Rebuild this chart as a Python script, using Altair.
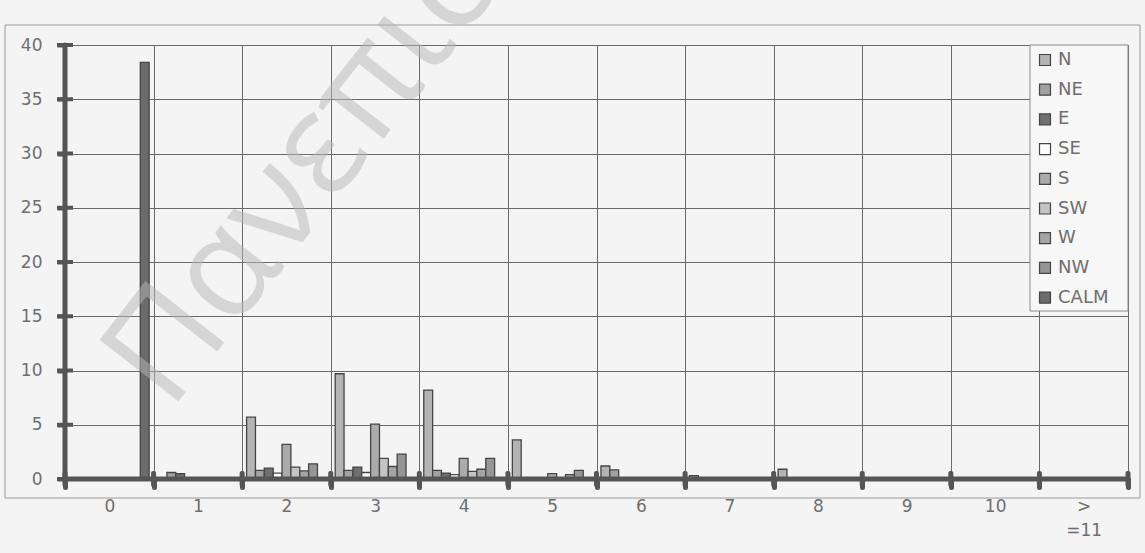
import altair as alt
import pandas as pd

# Wind speed classes (x categories) and wind directions (series)
speeds = ["0", "1", "2", "3", "4", "5", "6", "7", "8", "9", "10", ">=11"]
directions = ["N", "NE", "E", "SE", "S", "SW", "W", "NW", "CALM"]

# Frequency (%) per direction, one value per speed class
n_vals = [0, 0, 5.7, 9.7, 8.2, 3.6, 1.2, 0.3, 0.9, 0, 0, 0]
ne_vals = [0, 0.6, 0.8, 0.8, 0.8, 0, 0.85, 0, 0, 0, 0, 0]
e_vals = [0, 0.5, 1.0, 1.1, 0.55, 0, 0, 0, 0, 0, 0, 0]
se_vals = [0, 0, 0.55, 0.6, 0.4, 0, 0, 0, 0, 0, 0, 0]
s_vals = [0, 0, 3.2, 5.05, 1.9, 0.5, 0, 0, 0, 0, 0, 0]
sw_vals = [0, 0, 1.1, 1.9, 0.7, 0, 0, 0, 0, 0, 0, 0]
w_vals = [0, 0, 0.75, 1.15, 0.9, 0.4, 0, 0, 0, 0, 0, 0]
nw_vals = [0, 0, 1.4, 2.3, 1.9, 0.8, 0, 0, 0, 0, 0, 0]
calm_vals = [38.4, 0, 0, 0, 0, 0, 0, 0, 0, 0, 0, 0]

y_ticks = [0, 5, 10, 15, 20, 25, 30, 35, 40]
fills = ["#b4b4b4", "#a2a2a2", "#6f6f6f", "#ffffff", "#ababab",
         "#c4c4c4", "#a5a5a5", "#969696", "#6b6b6b"]

series = [n_vals, ne_vals, e_vals, se_vals, s_vals, sw_vals, w_vals, nw_vals, calm_vals]
rows = []
for d, vals in zip(directions, series):
    for sp, v in zip(speeds, vals):
        if v > 0:  # empty classes draw no bar
            rows.append({"speed": sp, "dir": d, "value": v})
df = pd.DataFrame(rows)

W, H = 1063, 434
LEG_X, LEG_W, LEG_H = 965, 98, 266
AXIS_COLOR = "#555555"
GRID_COLOR = "#6a6a6a"
LABEL_COLOR = "#6e6e6e"
FONT = "DejaVu Sans"

x_enc = alt.X(
    "speed:N",
    sort=speeds,
    scale=alt.Scale(type="band", domain=speeds, paddingInner=0, paddingOuter=0),
    axis=alt.Axis(
        title=None,
        labelAngle=0,
        tickBand="extent",
        tickSize=8,
        tickWidth=5,
        tickColor=AXIS_COLOR,
        tickCap="round",
        domain=False,
        grid=True,
        gridColor=GRID_COLOR,
        gridWidth=1,
        labelFont=FONT,
        labelFontSize=17,
        labelColor=LABEL_COLOR,
        labelPadding=11,
        labelBaseline="top",
        labelLineHeight=24,
        labelExpr="datum.label == '>=11' ? ['>', '=11'] : datum.label",
    ),
)

y_enc = alt.Y(
    "value:Q",
    scale=alt.Scale(domain=[0, 40], nice=False),
    axis=alt.Axis(
        title=None,
        values=y_ticks,
        domain=False,
        tickSize=8,
        tickWidth=4,
        tickColor=AXIS_COLOR,
        grid=True,
        gridColor=GRID_COLOR,
        gridWidth=1,
        labelFont=FONT,
        labelFontSize=17,
        labelColor=LABEL_COLOR,
        labelPadding=15,
    ),
)

one = pd.DataFrame({"k": [0]})

# legend panel drawn over the grid
legend_box = alt.Chart(one).mark_rect(
    fill="#f7f7f7", stroke="#8a8a8a", strokeWidth=1
).encode(
    x=alt.value(LEG_X), x2=alt.value(LEG_X + LEG_W), y=alt.value(0), y2=alt.value(LEG_H)
)

bars = alt.Chart(df).mark_bar(stroke="#454545", strokeWidth=1.3).encode(
    x=x_enc,
    xOffset=alt.XOffset(
        "dir:N", sort=directions,
        scale=alt.Scale(domain=directions, paddingInner=0, paddingOuter=0.5),
    ),
    y=y_enc,
    color=alt.Color(
        "dir:N",
        sort=directions,
        scale=alt.Scale(domain=directions, range=fills),
        legend=alt.Legend(
            title=None,
            orient="none",
            legendX=LEG_X,
            legendY=0,
            padding=6,
            zindex=1,
            symbolType="square",
            symbolSize=120,
            symbolStrokeColor="#444444",
            symbolStrokeWidth=1.2,
            symbolOffset=0,
            labelOffset=4,
            labelFont=FONT,
            labelFontSize=18,
            labelColor=LABEL_COLOR,
            rowPadding=11.7,
        ),
    ),
)

# heavy axis lines
x_line = alt.Chart(one).mark_rule(color=AXIS_COLOR, strokeWidth=5, strokeCap="round").encode(
    x=alt.value(0), x2=alt.value(W), y=alt.datum(0)
)
y_line = alt.Chart(one).mark_rule(color=AXIS_COLOR, strokeWidth=5, strokeCap="round").encode(
    x=alt.value(0), y=alt.datum(0), y2=alt.datum(40)
)

# tick marks crossing the value axis
y_cross = alt.Chart(pd.DataFrame({"value": y_ticks})).mark_tick(
    orient="horizontal", size=16, thickness=4, color=AXIS_COLOR, opacity=1
).encode(x=alt.value(0), y=alt.Y("value:Q"))

# tick marks on the category boundaries
x_cross = alt.Chart(pd.DataFrame({"speed": speeds})).mark_tick(
    orient="vertical", size=16, thickness=5, color=AXIS_COLOR, opacity=1, cornerRadius=2
).encode(x=alt.X("speed:N", sort=speeds, bandPosition=0), y=alt.datum(0))
x_cross_end = alt.Chart(pd.DataFrame({"speed": [speeds[-1]]})).mark_tick(
    orient="vertical", size=16, thickness=5, color=AXIS_COLOR, opacity=1, cornerRadius=2
).encode(x=alt.X("speed:N", sort=speeds, bandPosition=1), y=alt.datum(0))

# chart-area border
frame = alt.Chart(one).mark_rect(filled=False, stroke="#9a9a9a", strokeWidth=1).encode(
    x=alt.value(-60), x2=alt.value(W + 12), y=alt.value(-20), y2=alt.value(H + 19)
)

# repository watermark
mark_wm = alt.Chart(one).mark_text(
    text="Πανεπιστήμιο",
    angle=308,
    font="Open Sans",
    fontSize=140,
    align="left",
    baseline="alphabetic",
    color="#b8b8b8",
    opacity=0.5,
).encode(x=alt.value(105), y=alt.value(367))

chart = alt.layer(
    legend_box, bars, x_line, y_line, y_cross, x_cross, x_cross_end, frame, mark_wm
).properties(
    width=W,
    height=H,
    autosize=alt.AutoSizeParams(type="none"),
    padding={"left": 65, "top": 45, "right": 17, "bottom": 74},
    background="#f4f4f4",
).configure_view(stroke=GRID_COLOR)

chart.save("out.html", embed_options={"renderer": "svg", "actions": False})
